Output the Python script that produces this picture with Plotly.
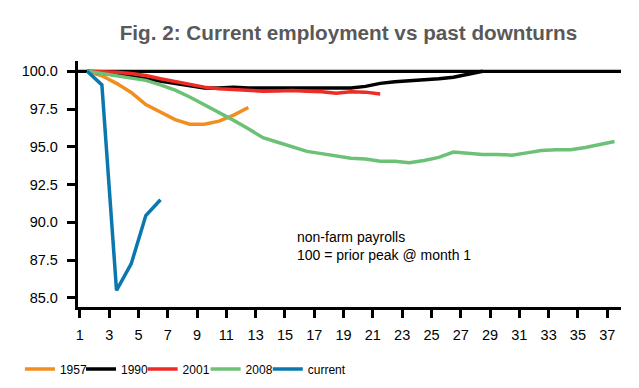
import plotly.graph_objects as go

months_1957 = list(range(1, 13))
vals_1957 = [100, 99.7, 99.2, 98.6, 97.8, 97.3, 96.8, 96.5, 96.5, 96.7, 97.1, 97.6]

months_1990 = list(range(1, 29))
vals_1990 = [100, 99.85, 99.75, 99.65, 99.5, 99.3, 99.15, 99.0, 98.9, 98.9, 98.95, 98.9,
             98.9, 98.95, 98.95, 98.95, 98.9, 98.95, 98.9, 99.0, 99.2, 99.3, 99.35, 99.45,
             99.5, 99.6, 99.8, 100]

months_2001 = list(range(1, 22))
vals_2001 = [100, 99.97, 99.93, 99.85, 99.72, 99.5, 99.3, 99.1, 98.95, 98.85, 98.8, 98.75,
             98.68, 98.7, 98.72, 98.68, 98.65, 98.55, 98.65, 98.62, 98.5]

months_2008 = list(range(1, 38))
vals_2008 = [100, 99.85, 99.7, 99.55, 99.4, 99.1, 98.75, 98.3, 97.8, 97.3, 96.75, 96.2,
             95.6, 95.3, 95.0, 94.7, 94.55, 94.4, 94.25, 94.2, 94.05, 94.05, 93.95, 94.1,
             94.3, 94.65, 94.55, 94.5, 94.5, 94.45, 94.6, 94.75, 94.8, 94.8, 94.95, 95.15,
             95.35]

months_current = list(range(1, 7))
vals_current = [100, 99.1, 85.5, 87.25, 90.45, 91.5]

x_tick_labels = [str(m) for m in range(1, 38, 2)]
y_tick_values = [85.0, 87.5, 90.0, 92.5, 95.0, 97.5, 100.0]

series = [
    ("1957", months_1957, vals_1957, "#F28E1E"),
    ("1990", months_1990, vals_1990, "#000000"),
    ("2001", months_2001, vals_2001, "#EE2B24"),
    ("2008", months_2008, vals_2008, "#6DC177"),
    ("current", months_current, vals_current, "#0A78AE"),
]
legend_x = [-0.107, 0.0055, 0.119, 0.235, 0.3495]

FONT = "Liberation Sans, Arial"

fig = go.Figure()
legend_ids = []
for i, (name, xs, ys, col) in enumerate(series):
    lg = "legend" if i == 0 else f"legend{i + 1}"
    legend_ids.append(lg)
    fig.add_trace(go.Scatter(x=xs, y=ys, mode="lines", name=name, legend=lg,
                             line=dict(color=col, width=3.5)))

# reference line at 100
fig.add_shape(type="line", xref="paper", yref="y", x0=0, x1=1, y0=100, y1=100,
              line=dict(color="black", width=3.3), layer="below")

fig.add_annotation(x=0.399, y=0.249, xref="paper", yref="paper", xanchor="left",
                   yanchor="middle", align="left", showarrow=False,
                   text="non-farm payrolls<br>100 = prior peak @ month 1",
                   font=dict(family=FONT, size=14, color="black"))

legends = {}
for lg, lx in zip(legend_ids, legend_x):
    legends[lg] = dict(orientation="h", x=lx, xanchor="left", y=-0.252, yanchor="middle",
                       font=dict(family=FONT, size=12), itemwidth=30,
                       tracegroupgap=0, bgcolor="rgba(0,0,0,0)")

fig.update_layout(
    width=639, height=388,
    margin=dict(l=62, r=26, t=53, b=80),
    paper_bgcolor="white", plot_bgcolor="white",
    font=dict(family=FONT, size=12, color="black"),
    title=dict(text="<b>Fig. 2: Current employment vs past downturns</b>",
               x=0.498, xref="paper", xanchor="center", y=0.937, yanchor="middle",
               font=dict(family=FONT, size=20.7, color="#595959")),
    showlegend=True,
    xaxis=dict(range=[0.37, 37.44], tickmode="array",
               tickvals=[m - 0.5 for m in range(1, 38, 2)], ticktext=x_tick_labels,
               showgrid=False, zeroline=False, showline=True, linecolor="black", linewidth=3.3,
               ticks="outside", ticklen=8, tickwidth=3, tickcolor="black",
               ticklabelstandoff=4, tickfont=dict(size=14.5)),
    yaxis=dict(range=[84.4, 100.68], tickmode="array", tickvals=y_tick_values,
               tickformat=".1f", showgrid=False, zeroline=False, showline=True,
               linecolor="black", linewidth=3.3, ticks="outside", ticklen=8, tickwidth=3,
               tickcolor="black", ticklabelstandoff=6, tickfont=dict(size=14.5)),
    **legends,
)

fig.write_html("out.html")
